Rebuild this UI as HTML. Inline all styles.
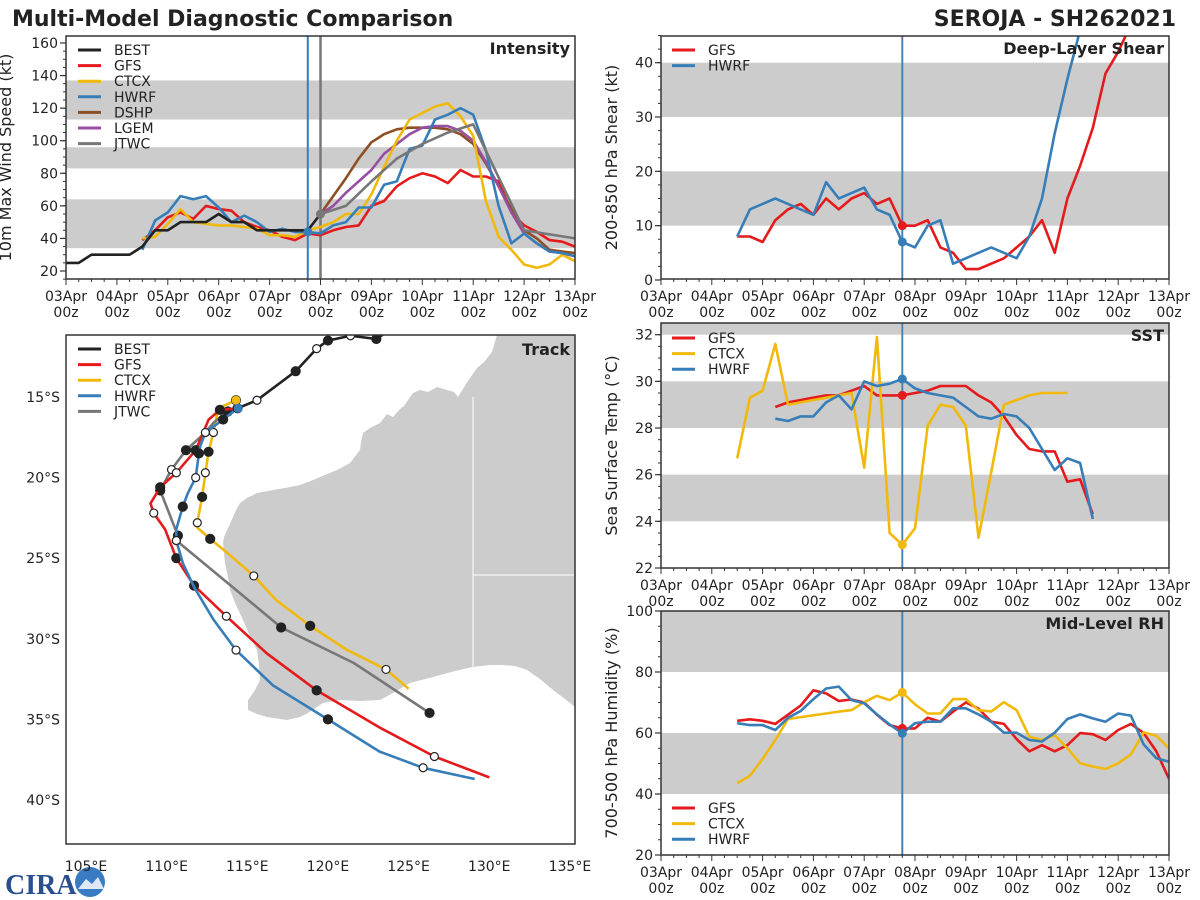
<!DOCTYPE html>
<html><head><meta charset="utf-8"><style>
html,body{margin:0;padding:0;background:#fff}
svg{display:block;font-family:"DejaVu Sans","Liberation Sans",sans-serif}
</style></head><body>
<svg id="chart" width="1200" height="900" viewBox="0 0 1200 900" xmlns="http://www.w3.org/2000/svg">
<rect x="0" y="0" width="1200" height="900" fill="#fff"/>
<text x="12" y="26" font-size="22" font-weight="bold" fill="#222">Multi-Model Diagnostic Comparison</text>
<text x="1176" y="26" font-size="22" font-weight="bold" fill="#222" text-anchor="end">SEROJA - SH262021</text>
<g>
<text x="5" y="894" font-size="28" font-weight="bold" fill="#2a4f8f" font-family="Liberation Serif, serif">CIRA</text>
<circle cx="90" cy="882" r="15" fill="#3a7cc4"/>
<path d="M78 889 L86 879 L92 884 L98 877 L104 889 Z" fill="#dfe8f4"/>
</g>
</svg>
<script>
const NS='http://www.w3.org/2000/svg';
const svg=document.getElementById('chart');
function el(tag,attrs,parent){const e=document.createElementNS(NS,tag);for(const k in attrs)e.setAttribute(k,attrs[k]);(parent||svg).appendChild(e);return e;}

// ---------- DATA ----------
const dayLabels=['03Apr','04Apr','05Apr','06Apr','07Apr','08Apr','09Apr','10Apr','11Apr','12Apr','13Apr'];
const bestInt=[25,25,30,30,30,30,35,45,45,50,50,50,55,50,50,45,45,45,45,45,55];
const gfsInt=[39,45,53,56,52,60,58,57,50,47,45,41,39,43,42,45,47,48,60,63,72,77,80,78,74,82,78,78,75,56,48,44,39,38,35];
const ctcxInt=[40,41,49,58,50,49,48,48,47,46,42,42,41,45,47,50,55,55,67,84,100,113,117,121,123,115,103,63,41,33,24,22,24,30,26];
const hwrfInt=[33,51,56,66,64,66,59,50,54,50,44,46,44,44,43,48,50,59,59,73,75,95,97,113,116,120,116,94,60,37,43,37,32,31,29];
const dshpInt=[55,66,77,89,99,104,107,108,108,108,107,104,98,86,72,58,45,40,33,32,31];
const lgemInt=[55,60,68,75,82,92,98,104,108,109,109,106,100,87,72,56,43,37,32,31,29];
const jtwcDays=[5,5.5,6,6.5,7,7.5,8,9,10];
const jtwcInt=[55,60,75,89,98,105,110,45,40];
const gfsShear=[8,8,7,11,13,14,12,15,13,15,16,14,15,10,10,11,6,5,2,2,3,4,6,8,11,5,15,21,28,38,42,47];
const hwrfShear=[8,13,14,15,14,13,12,18,15,16,17,13,12,7,6,10,11,3,4,5,6,5,4,8,15,27,37,46];
const gfsSst=[28.9,29.1,29.2,29.3,29.4,29.4,29.6,29.8,29.4,29.4,29.4,29.5,29.6,29.8,29.8,29.8,29.4,29.1,28.5,27.7,27.1,27.0,27.0,25.7,25.8,24.3];
const ctcxSst=[26.7,29.3,29.6,31.6,29.0,29.1,29.2,29.3,29.4,29.5,26.3,31.9,23.5,23.0,23.7,28.1,29.0,28.9,28.1,23.3,26.1,29.0,29.2,29.4,29.5,29.5,29.5];
const hwrfSst=[28.4,28.3,28.5,28.5,29.1,29.4,28.8,30.0,29.8,29.9,30.1,29.7,29.5,29.4,29.3,28.9,28.5,28.4,28.6,28.5,28.0,27.1,26.2,26.7,26.5,24.1];
const gfsRh=[64,64.5,64,63,66,69,74,73,70.5,71,70,66,62.6,61.5,61.5,65,63.7,67,70,68,63.7,63,58,54,56,54,56,60,59.6,57.7,61,63,60,54,45];
const ctcxRh=[43.5,46,51.5,57.7,64.6,65.2,65.8,66.4,67,67.5,70.1,72.2,70.8,73.3,69.4,66.4,66.4,71.1,71.1,67.5,67,70.1,67.5,58.8,57.7,59.3,55,50.1,49,48.2,50.1,53,60.2,59.1,55];
const hwrfRh=[63.2,62.6,62.6,61,65,67.2,71.1,74.6,75.2,70.8,69.7,66.1,62.8,59.9,63.2,63.7,63.7,68.1,68.1,66.1,63.7,60.1,60.1,57.7,57.2,60.1,64.6,66.1,64.8,63.7,66.4,65.7,56.3,51.7,50.6];
const bestLon=[123.6,123.0,121.4,120.0,119.3,118.0,115.6,114.4];
const bestLat=[11.0,11.4,11.2,11.5,12.0,13.4,15.2,15.7];
const bestMk=[0,1,2,1,2,1,2,0];
const gfsLon=[114.4,113.3,112.6,111.8,110.6,109.6,109.0,109.2,109.9,110.6,111.7,113.7,116.2,119.3,123.2,126.6,130.0];
const gfsLat=[15.7,15.8,16.4,18.3,19.7,20.6,21.6,22.2,23.2,25.0,26.7,28.6,30.9,33.2,35.5,37.3,38.6];
const gfsMk=[0,1,0,1,2,1,0,2,0,1,1,2,0,1,0,2,0];
const hwrfLon=[114.4,113.5,112.4,112.1,112.0,111.8,111.3,111.0,110.6,110.6,111.0,111.7,112.9,114.3,116.6,120.0,123.2,125.9,129.1];
const hwrfLat=[15.7,16.4,17.2,18.0,18.5,20.0,21.0,21.8,23.2,23.9,25.3,26.8,28.8,30.7,32.9,35.0,37.0,38.0,38.7];
const hwrfMk=[1,1,2,0,1,2,0,1,0,2,0,0,0,2,0,1,0,2,0];
const ctcxLon=[114.3,113.2,112.9,112.6,112.4,112.2,111.9,111.9,112.7,113.8,115.4,116.8,118.9,121.2,123.6,125.0];
const ctcxLat=[15.2,15.7,17.2,18.4,19.7,21.2,22.8,23.1,23.8,24.7,26.1,27.6,29.2,30.7,31.9,33.1];
const ctcxMk=[1,0,2,1,2,1,2,0,1,0,2,0,1,0,2,0];
const jtwcLon=[113.8,112.9,112.4,111.2,110.3,109.6,110.7,110.6,114.1,117.1,121.6,126.3];
const jtwcLat=[15.9,16.6,17.2,18.3,19.5,20.8,23.6,23.9,26.8,29.3,31.5,34.6];
const jtwcMk=[1,0,0,1,2,1,1,2,0,1,0,1];

const C={best:'#222222',gfs:'#e41a1c',ctcx:'#f0b90b',hwrf:'#377eb8',dshp:'#8c4f24',lgem:'#984ea3',jtwc:'#777777'};

const xL=d=>66+d*50.9;
const xR=d=>661+d*50.8;
const P={
 int:{x0:66,x1:575,y0:36,y1:279,x:xL,y:v=>271-(v-20)*1.6286,tOff:55},
 shr:{x0:661,x1:1169,y0:36,y1:279,x:xR,y:v=>280-5.433*v,tOff:44},
 sst:{x0:661,x1:1169,y0:323,y1:568,x:xR,y:v=>568-23.33*(v-22),tOff:44},
 rh:{x0:661,x1:1169,y0:611,y1:855,x:xR,y:v=>855-3.05*(v-20),tOff:44}
};
let clipN=0;
function panel(p,name,bands,yTicks,minorStep,yMin,yMax,ytitle,title){
 const g=el('g',{});
 
 
 const id='clip'+(clipN++);
 const cp=el('clipPath',{id:id},g);
 el('rect',{x:p.x0,y:p.y0,width:p.x1-p.x0,height:p.y1-p.y0},cp);
 p.clip='url(#'+id+')';
 bands.forEach(b=>{
  const y1=Math.max(p.y0,p.y(b[1])),y2=Math.min(p.y1,p.y(b[0]));
  const r=el('rect',{x:p.x0,y:y1,width:p.x1-p.x0,height:y2-y1,fill:'#cccccc'},g);
  
  
 });
 for(let v=yMin;v<=yMax+1e-6;v+=minorStep){
  const y=p.y(v); if(y<p.y0-0.5||y>p.y1+0.5)continue;
  el('line',{x1:p.x0-3,x2:p.x0,y1:y,y2:y,stroke:'#333','stroke-width':1},g);
 }
 yTicks.forEach(v=>{
  const y=p.y(v);
  el('line',{x1:p.x0-6,x2:p.x0,y1:y,y2:y,stroke:'#333','stroke-width':1.2},g);
  const t=el('text',{x:p.x0-8,y:y+5,'font-size':14,'text-anchor':'end',fill:'#222'},g);
  t.textContent=v;
  
  
 });
 for(let d=0;d<=10.001;d+=0.25){
  const x=p.x(d), major=Math.abs(d-Math.round(d))<1e-6;
  el('line',{x1:x,x2:x,y1:p.y1,y2:p.y1+(major?6:3),stroke:'#333','stroke-width':1},g);
 }
 dayLabels.forEach((lab,i)=>{
  const x=p.x(i);
  const t=el('text',{x:x,y:p.y1+22,'font-size':14,'text-anchor':'middle',fill:'#222'},g);
  t.textContent=lab;
  
  
  const t2=el('text',{x:x,y:p.y1+38,'font-size':14,'text-anchor':'middle',fill:'#222'},g);
  t2.textContent='00z';
  
  
 });
 const cy=(p.y0+p.y1)/2, tx=p.x0-p.tOff;
 const yt=el('text',{x:tx,y:cy,'font-size':16,'text-anchor':'middle',fill:'#222',transform:'rotate(-90 '+tx+' '+cy+')'},g);
 yt.textContent=ytitle;
 
 
 const tt=el('text',{x:p.x1-5,y:p.y0+18,'font-size':16,'font-weight':'bold','text-anchor':'end',fill:'#222'});
 tt.textContent=title;
 
 
 p.titleEl=tt;
 return g;
}
function frame(p){
 const f=el('rect',{x:p.x0,y:p.y0,width:p.x1-p.x0,height:p.y1-p.y0,fill:'none',stroke:'#333','stroke-width':1.5});
 
 
}
function series(p,vals,start,color,name,days){
 const pts=vals.map((v,i)=>[p.x(days?days[i]:start+i*0.25),p.y(v)]);
 const pl=el('polyline',{points:pts.map(q=>q[0].toFixed(1)+','+q[1].toFixed(1)).join(' '),fill:'none',stroke:color,'stroke-width':2.6,'stroke-linejoin':'round','clip-path':p.clip});
 
 
}
function dot(p,vals,start,day,color,name){
 const v=vals[Math.round((day-start)/0.25)];
 const c=el('circle',{cx:p.x(day),cy:p.y(v),r:4.5,fill:color});
 
 
}
function vline(p,day,color,w){
 const l=el('line',{x1:p.x(day),x2:p.x(day),y1:p.y0,y2:p.y1,stroke:color,'stroke-width':w});
 
 
}
function legend(x,y,items){
 items.forEach((it,i)=>{
  const yy=y+i*15.6;
  const l=el('line',{x1:x,x2:x+23,y1:yy,y2:yy,stroke:it[1],'stroke-width':3});
  
  
  const t=el('text',{x:x+36,y:yy+5,'font-size':14,fill:'#222'});
  t.textContent=it[0];
  
  
 });
}

panel(P.int,'intensity',[[34,64],[83,96],[113,137]],[20,40,60,80,100,120,140,160],5,15,165,'10m Max Wind Speed (kt)','Intensity');
vline(P.int,4.75,C.hwrf,2);
vline(P.int,5,'#777',2.5);
series(P.int,gfsInt,1.5,C.gfs,'gfs-intensity-line');
series(P.int,dshpInt,5,C.dshp,'dshp-intensity-line');
series(P.int,lgemInt,5,C.lgem,'lgem-intensity-line');
series(P.int,ctcxInt,1.5,C.ctcx,'ctcx-intensity-line');
series(P.int,hwrfInt,1.5,C.hwrf,'hwrf-intensity-line');
series(P.int,jtwcInt,0,C.jtwc,'jtwc-intensity-line',jtwcDays);
series(P.int,bestInt,0,C.best,'best-intensity-line');
dot(P.int,hwrfInt,1.5,4.75,C.hwrf,'hwrf-intensity-marker');
dot(P.int,jtwcInt,5,5,C.jtwc,'jtwc-intensity-marker');
frame(P.int);
legend(78,50,[['BEST',C.best],['GFS',C.gfs],['CTCX',C.ctcx],['HWRF',C.hwrf],['DSHP',C.dshp],['LGEM',C.lgem],['JTWC',C.jtwc]]);

panel(P.shr,'shear',[[10,20],[30,40]],[0,10,20,30,40],2.5,0,45,'200-850 hPa Shear (kt)','Deep-Layer Shear');
vline(P.shr,4.75,'#8a7a9a',2);
vline(P.shr,4.75,C.hwrf,1);
series(P.shr,gfsShear,1.5,C.gfs,'gfs-shear-line');
series(P.shr,hwrfShear,1.5,C.hwrf,'hwrf-shear-line');
dot(P.shr,gfsShear,1.5,4.75,C.gfs,'gfs-shear-marker');
dot(P.shr,hwrfShear,1.5,4.75,C.hwrf,'hwrf-shear-marker');
frame(P.shr);
legend(672,50,[['GFS',C.gfs],['HWRF',C.hwrf]]);

panel(P.sst,'sst',[[24,26],[28,30],[32,34]],[22,24,26,28,30,32],0.5,22,32.4,'Sea Surface Temp (\u00B0C)','SST');
vline(P.sst,4.75,'#888',2);
vline(P.sst,4.75,C.hwrf,1);
series(P.sst,gfsSst,2.25,C.gfs,'gfs-sst-line');
series(P.sst,ctcxSst,1.5,C.ctcx,'ctcx-sst-line');
series(P.sst,hwrfSst,2.25,C.hwrf,'hwrf-sst-line');
dot(P.sst,gfsSst,2.25,4.75,C.gfs,'gfs-sst-marker');
dot(P.sst,ctcxSst,1.5,4.75,C.ctcx,'ctcx-sst-marker');
dot(P.sst,hwrfSst,2.25,4.75,C.hwrf,'hwrf-sst-marker');
frame(P.sst);
legend(672,338,[['GFS',C.gfs],['CTCX',C.ctcx],['HWRF',C.hwrf]]);

panel(P.rh,'rh',[[40,60],[80,100]],[20,40,60,80,100],5,20,100,'700-500 hPa Humidity (%)','Mid-Level RH');
vline(P.rh,4.75,'#8a7a6a',2);
vline(P.rh,4.75,C.hwrf,1);
series(P.rh,gfsRh,1.5,C.gfs,'gfs-rh-line');
series(P.rh,ctcxRh,1.5,C.ctcx,'ctcx-rh-line');
series(P.rh,hwrfRh,1.5,C.hwrf,'hwrf-rh-line');
dot(P.rh,gfsRh,1.5,4.75,C.gfs,'gfs-rh-marker');
dot(P.rh,ctcxRh,1.5,4.75,C.ctcx,'ctcx-rh-marker');
dot(P.rh,hwrfRh,1.5,4.75,C.hwrf,'hwrf-rh-marker');
frame(P.rh);
legend(672,808,[['GFS',C.gfs],['CTCX',C.ctcx],['HWRF',C.hwrf]]);

const T={x0:66,x1:575,y0:335,y1:844};
const lonX=lon=>86+(lon-105)*16.13;
const latY=lat=>397+(lat-15)*16.12;
const tg=el('g',{});


const tcp=el('clipPath',{id:'trackclip'},tg);
el('rect',{x:T.x0,y:T.y0,width:T.x1-T.x0,height:T.y1-T.y0},tcp);
const land=el('path',{d:'M575,335 L497,335 L494,345 L492,352 L484,362 L477,368 L470,378 L466,384 L458,397 L454,392 L447,390 L437,387 L428,392 L420,390 L413,393 L408,400 L404,406 L400,409 L393,417 L387,414 L380,423 L370,428 L363,433 L361,442 L360,450 L350,463 L337,470 L313,480 L300,485 L285,488 L273,490 L257,493 L247,498 L240,503 L236,510 L233,517 L230,524 L227,530 L224,537 L223,543 L224,553 L225,563 L228,577 L230,590 L236,605 L243,620 L250,636 L257,650 L259,665 L260,680 L254,692 L248,700 L248,710 L257,714 L267,717 L287,720 L300,717 L308,713 L323,703 L340,700 L360,701 L380,700 L393,693 L410,683 L433,677 L455,671 L473,667 L490,665 L503,665 L515,666 L527,670 L540,679 L553,690 L565,699 L575,707 Z',fill:'#cccccc','clip-path':'url(#trackclip)'},tg);


el('line',{x1:473,x2:473,y1:397,y2:667,stroke:'#fff','stroke-width':1},tg);
el('line',{x1:473,x2:575,y1:575,y2:575,stroke:'#fff','stroke-width':1},tg);
function track(lons,lats,mks,color,name){
 const pts=lons.map((lo,i)=>lonX(lo).toFixed(1)+','+latY(lats[i]).toFixed(1)).join(' ');
 const pl=el('polyline',{points:pts,fill:'none',stroke:color,'stroke-width':2.6,'stroke-linejoin':'round','clip-path':'url(#trackclip)'},tg);
 
 
 mks.forEach((m,i)=>{
  if(!m)return;
  const c=el('circle',{cx:lonX(lons[i]),cy:latY(lats[i]),r:m===1?4.5:4,fill:m===1?'#222':'#fff',stroke:'#222','stroke-width':1.2,'clip-path':'url(#trackclip)'},tg);
  
  
 });
}
track(ctcxLon,ctcxLat,ctcxMk,C.ctcx,'ctcx-track');
track(jtwcLon,jtwcLat,jtwcMk,C.jtwc,'jtwc-track');
track(gfsLon,gfsLat,gfsMk,C.gfs,'gfs-track');
track(hwrfLon,hwrfLat,hwrfMk,C.hwrf,'hwrf-track');
track(bestLon,bestLat,bestMk,C.best,'best-track');
const sdC=el('circle',{cx:lonX(ctcxLon[0]),cy:latY(ctcxLat[0]),r:4.5,fill:C.ctcx},tg);


const sdH=el('circle',{cx:lonX(hwrfLon[0])+0.5,cy:latY(hwrfLat[0]),r:4.5,fill:C.hwrf},tg);


const tf=el('rect',{x:T.x0,y:T.y0,width:T.x1-T.x0,height:T.y1-T.y0,fill:'none',stroke:'#333','stroke-width':1.5});


const lonTicks=[105,110,115,120,125,130,135];
const latTicks=[15,20,25,30,35,40];
lonTicks.forEach(lo=>{
 const t=el('text',{x:lonX(lo),y:871,'font-size':14,'text-anchor':'middle',fill:'#222'});
 t.textContent=lo+'\u00B0E';
 
 
});
latTicks.forEach(la=>{
 const t=el('text',{x:60,y:latY(la)+5,'font-size':14,'text-anchor':'end',fill:'#222'});
 t.textContent=la+'\u00B0S';
 
 
});
const trt=el('text',{x:570,y:355,'font-size':16,'font-weight':'bold','text-anchor':'end',fill:'#222'});
trt.textContent='Track';


legend(78,349,[['BEST',C.best],['GFS',C.gfs],['CTCX',C.ctcx],['HWRF',C.hwrf],['JTWC',C.jtwc]]);
[P.int,P.shr,P.sst,P.rh].forEach(p=>svg.appendChild(p.titleEl));
</script>
</body></html>
